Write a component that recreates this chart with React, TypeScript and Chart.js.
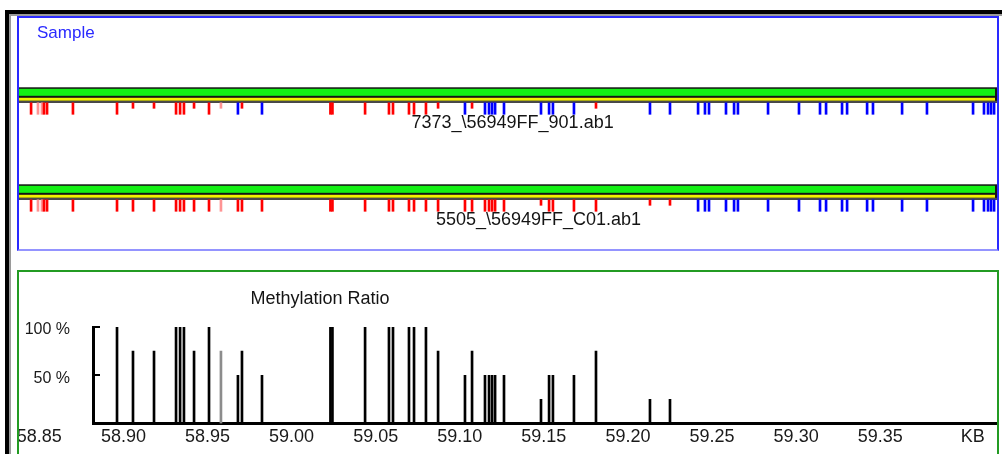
import React, { useEffect, useRef } from "react";
import { Chart, registerables } from "chart.js";

Chart.register(...registerables);

const FONT = '"Liberation Sans", Arial, Helvetica, sans-serif';

// ---------- texts ----------
const PANEL_TITLE = "Sample";
const RATIO_TITLE = "Methylation Ratio";
const SAMPLE_NAMES = ["7373_\\56949FF_901.ab1", "5505_\\56949FF_C01.ab1"];

// ---------- CpG sites (kb) ----------
const SITE_KB = [
  58.8451, 58.8492, 58.8516, 58.8528, 58.8546, 58.87, 58.8962, 58.9057, 58.9182, 58.9313,
  58.9337, 58.936, 58.942, 58.9509, 58.958, 58.9681, 58.9705, 58.9824, 59.0231, 59.0243,
  59.0437, 59.0579, 59.0603, 59.0698, 59.0728, 59.0799, 59.0871, 59.1031, 59.1073, 59.115,
  59.1174, 59.1192, 59.121, 59.1263, 59.1483, 59.1531, 59.1554, 59.1679, 59.181, 59.2131,
  59.225, 59.2417, 59.2458, 59.2482, 59.2583, 59.2631, 59.2654, 59.2833, 59.3017, 59.3142,
  59.3178, 59.3273, 59.3303, 59.3422, 59.3457, 59.363, 59.3778, 59.4052, 59.4117, 59.4141,
  59.4159, 59.4177,
];

// M = methylated, P = partly methylated, W = weak methylated, w = weak partly, U = unmethylated
const SAMPLE1_CALLS = [
  "M", "W", "W", "M", "M", "M",
  "M", "P", "P", "M", "M", "M", "P", "M",
  "w", "U", "P", "U",
  "M", "M", "M", "M", "M", "M", "M", "M",
  "P", "U", "P",
  "U", "U", "U", "U", "U", "U", "U", "U", "U",
  "P",
  "U", "U",
  "U", "U", "U", "U", "U", "U", "U", "U", "U", "U", "U", "U", "U", "U", "U", "U", "U", "U", "U", "U", "U",
];
const SAMPLE2_CALLS = [
  "M", "W", "W", "M", "M", "M",
  "M", "M", "M", "M", "M", "M", "M", "M",
  "W", "M", "M", "M",
  "M", "M", "M", "M", "M", "M", "M", "M",
  "M", "M", "M",
  "M", "M", "M", "M", "M",
  "P",
  "M", "M", "M", "M",
  "P", "P",
  "U", "U", "U", "U", "U", "U", "U", "U", "U", "U", "U", "U", "U", "U", "U", "U", "U", "U", "U", "U", "U",
];

// ---------- methylation ratio ----------
const RATIO_KB = [
  58.8962, 58.9057, 58.9182, 58.9313, 58.9337, 58.936, 58.942, 58.9509, 58.958, 58.9681,
  58.9705, 58.9824, 59.0231, 59.0243, 59.0437, 59.0579, 59.0603, 59.0698, 59.0728, 59.0799,
  59.0871, 59.1031, 59.1073, 59.115, 59.1174, 59.1192, 59.121, 59.1263, 59.1483, 59.1531,
  59.1554, 59.1679, 59.181, 59.2131, 59.225,
];
const RATIO_PCT = [
  100, 75, 75, 100, 100, 100, 75, 100, 75, 50,
  75, 50, 100, 100, 100, 100, 100, 100, 100, 100,
  75, 50, 75, 50, 50, 50, 50, 50, 25, 50,
  50, 50, 75, 25, 25,
];
const RATIO_LOW_QUALITY = [
  false, false, false, false, false, false, false, false, true, false,
  false, false, false, false, false, false, false, false, false, false,
  false, false, false, false, false, false, false, false, false, false,
  false, false, false, false, false,
];

const X_TICKS = [58.85, 58.9, 58.95, 59.0, 59.05, 59.1, 59.15, 59.2, 59.25, 59.3, 59.35, 59.405];
const X_TICK_LABELS = ["58.85", "58.90", "58.95", "59.00", "59.05", "59.10", "59.15", "59.20", "59.25", "59.30", "59.35", "KB"];
const Y_TICKS = [50, 100];
const Y_TICK_LABELS = ["50 %", "100 %"];

// ---------- styling / geometry (not data) ----------
const ROW_PX = 97;
const TRACK_H = 15.5 / ROW_PX;
const TICK_FULL = 11.5 / ROW_PX;
const TICK_SHORT = 5.5 / ROW_PX;
const NAME_OFFSET = 35.5 / ROW_PX;
const NAME_AT_KB = [59.1314, 59.1468];

const CALL_COLOR: Record<string, string> = {
  M: "#ff0000",
  P: "#ff0000",
  W: "#ff9494",
  w: "#ff9494",
  U: "#0000ff",
};
const CALL_SHORT: Record<string, boolean> = { P: true, w: true };

const tickDataset = (calls: string[], row: number) => ({
  type: "bar" as const,
  data: SITE_KB.map((kb, j) => ({
    x: kb,
    y: [row + TRACK_H, row + TRACK_H + (CALL_SHORT[calls[j]] ? TICK_SHORT : TICK_FULL)],
  })),
  backgroundColor: calls.map((c) => CALL_COLOR[c]),
  borderWidth: 0,
  barThickness: 2,
  grouped: false,
});

const trackPlugin = {
  id: "sampleTracks",
  beforeDatasetsDraw(chart: any) {
    const { ctx, chartArea: a, scales } = chart;
    const ys = scales.y;
    ctx.save();
    SAMPLE_NAMES.forEach((_n, row) => {
      const top = ys.getPixelForValue(row);
      const h = ys.getPixelForValue(row + TRACK_H) - top;
      const w = a.right - a.left;
      ctx.fillStyle = "#151515";
      ctx.fillRect(a.left, top, w, h);
      ctx.fillStyle = "#14f014";
      ctx.fillRect(a.left, top + 1.5, w - 2, 7);
      ctx.fillStyle = "#f2f200";
      ctx.fillRect(a.left, top + 10.5, w - 2, 3);
      ctx.fillStyle = "#4a4a4a";
      ctx.fillRect(a.left, top + 13.5, w, h - 13.5);
    });
    ctx.restore();
  },
  afterDatasetsDraw(chart: any) {
    const { ctx, chartArea: a, scales } = chart;
    ctx.save();
    ctx.font = `18px ${FONT}`;
    ctx.textBaseline = "middle";
    ctx.textAlign = "center";
    ctx.fillStyle = "#141414";
    SAMPLE_NAMES.forEach((name, row) => {
      ctx.fillText(name, scales.x.getPixelForValue(NAME_AT_KB[row]), scales.y.getPixelForValue(row + NAME_OFFSET));
    });
    ctx.textAlign = "left";
    ctx.fillStyle = "#2a2aff";
    ctx.font = `17px ${FONT}`;
    ctx.fillText(PANEL_TITLE, a.left + 18, a.top + 15.5);
    ctx.restore();
  },
};

const ratioTitlePlugin = {
  id: "ratioTitle",
  afterDraw(chart: any) {
    const { ctx, chartArea: a } = chart;
    ctx.save();
    ctx.font = `18px ${FONT}`;
    ctx.textBaseline = "middle";
    ctx.textAlign = "center";
    ctx.fillStyle = "#141414";
    ctx.fillText(RATIO_TITLE, a.left + 227, a.top - 27.5);
    ctx.restore();
  },
};

export default function App() {
  const topRef = useRef<HTMLCanvasElement>(null);
  const botRef = useRef<HTMLCanvasElement>(null);

  useEffect(() => {
    const c1 = new Chart(topRef.current as HTMLCanvasElement, {
      type: "bar",
      data: { datasets: [tickDataset(SAMPLE1_CALLS, 0), tickDataset(SAMPLE2_CALLS, 1)] as any },
      options: {
        responsive: false,
        animation: false,
        events: [],
        layout: { padding: 0 },
        plugins: { legend: { display: false }, tooltip: { enabled: false } },
        scales: {
          x: { type: "linear", display: false, min: 58.83792, max: 59.41944, offset: false },
          y: { type: "linear", display: false, min: -0.7144, max: 1.667, reverse: true },
        },
      } as any,
      plugins: [trackPlugin],
    });

    const c2 = new Chart(botRef.current as HTMLCanvasElement, {
      type: "bar",
      data: {
        datasets: [
          {
            data: RATIO_KB.map((kb, i) => ({ x: kb, y: RATIO_PCT[i] })),
            backgroundColor: RATIO_LOW_QUALITY.map((q) => (q ? "#8c8c8c" : "#000000")),
            borderWidth: 0,
            barThickness: 2,
            grouped: false,
          },
        ] as any,
      },
      options: {
        responsive: false,
        animation: false,
        events: [],
        layout: { padding: { top: 55, right: 5, bottom: 0, left: 0 } },
        plugins: { legend: { display: false }, tooltip: { enabled: false } },
        scales: {
          x: {
            type: "linear",
            min: 58.88192,
            max: 59.41944,
            offset: false,
            grid: { display: false, drawTicks: false, offset: false },
            border: { display: true, color: "#000", width: 3 },
            afterBuildTicks: (s: any) => {
              s.ticks = X_TICKS.map((v) => ({ value: v }));
            },
            afterFit: (s: any) => {
              s.height = 30.5;
              s.paddingLeft = 0;
              s.paddingRight = 0;
            },
            ticks: {
              autoSkip: false,
              maxRotation: 0,
              minRotation: 0,
              padding: 2.5,
              color: "#1a1a1a",
              font: { family: FONT, size: 18 },
              callback: (_v: any, i: number) => X_TICK_LABELS[i],
            },
          },
          y: {
            type: "linear",
            min: 0,
            max: 100,
            grid: {
              display: true,
              drawOnChartArea: false,
              drawTicks: true,
              tickLength: -7,
              color: "#000",
              lineWidth: 2,
            },
            border: { display: true, color: "#000", width: 3 },
            afterBuildTicks: (s: any) => {
              s.ticks = Y_TICKS.map((v) => ({ value: v }));
            },
            afterFit: (s: any) => {
              s.width = 93;
              s.paddingTop = 0;
              s.paddingBottom = 0;
            },
            ticks: {
              padding: 30,
              labelOffset: 3,
              color: "#1a1a1a",
              font: { family: FONT, size: 16 },
              callback: (_v: any, i: number) => Y_TICK_LABELS[i],
            },
          },
        },
      } as any,
      plugins: [ratioTitlePlugin],
    });

    return () => {
      c1.destroy();
      c2.destroy();
    };
  }, []);

  return (
    <div
      style={{
        position: "fixed",
        left: 0,
        top: 0,
        width: 1002,
        height: 454,
        background: "#ffffff",
        overflow: "hidden",
      }}
    >
      <div style={{ position: "absolute", left: 19, top: 18, width: 978, height: 231 }}>
        <canvas ref={topRef} width={978} height={231} style={{ display: "block", width: 978, height: 231 }} />
      </div>
      <div style={{ position: "absolute", left: 0, top: 272, width: 1002, height: 182 }}>
        <canvas ref={botRef} width={1002} height={182} style={{ display: "block", width: 1002, height: 182 }} />
      </div>
      {/* panel frames */}
      <div
        style={{
          position: "absolute",
          left: 17,
          top: 16,
          width: 982,
          height: 235,
          boxSizing: "border-box",
          borderStyle: "solid",
          borderWidth: 2,
          borderColor: "#2a2aff #2a2aff #9494ff #2a2aff",
          pointerEvents: "none",
        }}
      />
      <div
        style={{
          position: "absolute",
          left: 17,
          top: 270,
          width: 982,
          height: 220,
          boxSizing: "border-box",
          border: "2px solid #239b23",
          pointerEvents: "none",
        }}
      />
      {/* window frame */}
      <div style={{ position: "absolute", left: 5, top: 10, width: 997, height: 4, background: "#000" }} />
      <div style={{ position: "absolute", left: 9, top: 14, width: 993, height: 1.5, background: "#9a9a9a" }} />
      <div style={{ position: "absolute", left: 5, top: 10, width: 4, height: 444, background: "#000" }} />
      <div style={{ position: "absolute", left: 9, top: 14, width: 1.5, height: 440, background: "#9a9a9a" }} />
    </div>
  );
}
